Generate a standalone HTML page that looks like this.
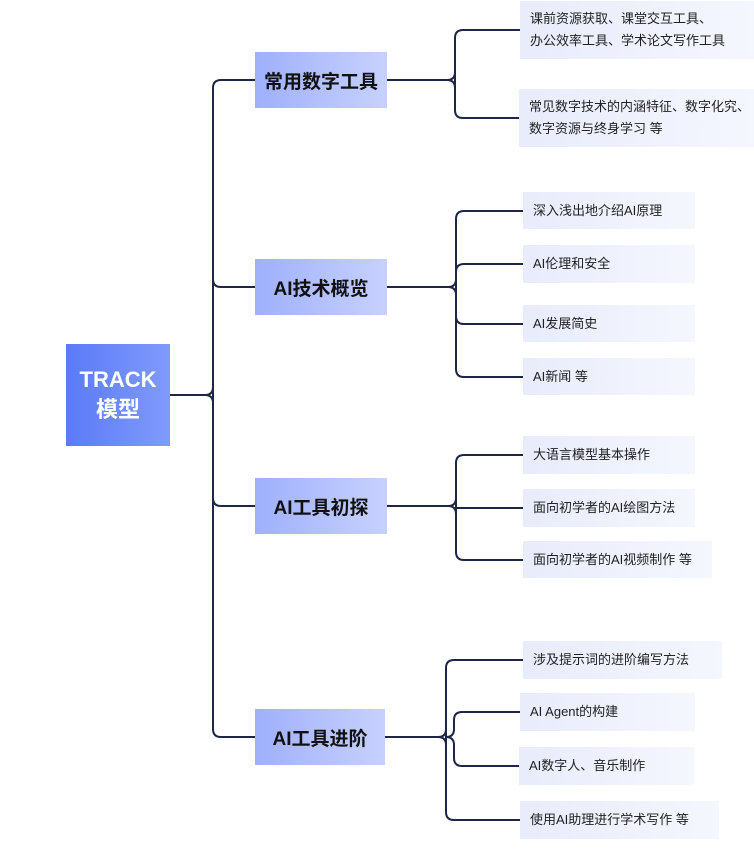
<!DOCTYPE html>
<html><head><meta charset="utf-8"><style>
body{margin:0;width:754px;height:853px;background:#fff;position:relative;overflow:hidden;font-family:"Liberation Sans","Noto Sans CJK SC",sans-serif}
.b{position:absolute;display:flex;align-items:center;justify-content:center;box-sizing:border-box}
.root{left:66px;top:344px;width:104px;height:102px;background:linear-gradient(90deg,#5a7af7,#809bfb);color:#fff;font-size:22px;font-weight:bold;line-height:30px;text-align:center}
.br{width:132px;height:56px;left:255px;background:linear-gradient(90deg,#9fb0fb,#c7d1fd);color:#111;font-size:19px;font-weight:bold}
.lf{background:linear-gradient(90deg,#e8ecfb,#f5f7fe);color:#222;font-size:13px;justify-content:flex-start;padding-left:10px;line-height:22px}
svg{position:absolute;left:0;top:0}
</style></head><body>
<svg width="754" height="853" fill="none" stroke="#1d2745" stroke-width="2">
<path d="M170 395 H205 M255 80 H221 Q213 80 213 88 V729 Q213 737 221 737 H255 M213 279 Q213 287 221 287 H255 M213 498 Q213 506 221 506 H255"/>
<path d="M205 395 Q213 395 213 387 M205 395 Q213 395 213 403"/>
<path d="M387 80 H447 M463 30 Q455 30 455 38 V110 Q455 118 463 118 H519 M447 80 Q455 80 455 72 M447 80 Q455 80 455 88 M463 30 H520"/>
<path d="M387 287 H448 M464 211 Q456 211 456 219 V369 Q456 377 464 377 H523 M464 211 H523 M456 272 Q456 264 464 264 H523 M456 316 Q456 324 464 324 H523 M448 287 Q456 287 456 279 M448 287 Q456 287 456 295"/>
<path d="M387 506 H448 M464 455 Q456 455 456 463 V552 Q456 560 464 560 H523 M464 455 H523 M448 506 Q456 506 456 498 M448 506 Q456 506 456 514 M456 508 H523"/>
<path d="M385 737 H438 M454 660 Q446 660 446 668 V812 Q446 820 454 820 H520 M454 660 H523 M438 737 Q446 737 446 729 M438 737 Q446 737 446 745 M446 737 Q454 737 454 745 V758 Q454 766 462 766 H519 M446 737 Q454 737 454 729 V720 Q454 712 462 712 H520"/>
</svg>
<div class="b root">TRACK<br>模型</div>
<div class="b br" style="top:52px">常用数字工具</div>
<div class="b br" style="top:259px">AI技术概览</div>
<div class="b br" style="top:478px">AI工具初探</div>
<div class="b br" style="top:709px;width:130px">AI工具进阶</div>
<div class="b lf" style="left:520px;top:1px;width:234px;height:58px">课前资源获取、课堂交互工具、<br>办公效率工具、学术论文写作工具</div>
<div class="b lf" style="left:519px;top:89px;width:235px;height:58px">常见数字技术的内涵特征、数字化究、<br>数字资源与终身学习 等</div>
<div class="b lf" style="left:523px;top:192px;width:172px;height:37px">深入浅出地介绍AI原理</div>
<div class="b lf" style="left:523px;top:245px;width:172px;height:38px">AI伦理和安全</div>
<div class="b lf" style="left:523px;top:305px;width:172px;height:37px">AI发展简史</div>
<div class="b lf" style="left:523px;top:358px;width:172px;height:37px">AI新闻 等</div>
<div class="b lf" style="left:523px;top:436px;width:172px;height:38px">大语言模型基本操作</div>
<div class="b lf" style="left:523px;top:489px;width:172px;height:38px">面向初学者的AI绘图方法</div>
<div class="b lf" style="left:523px;top:541px;width:189px;height:37px">面向初学者的AI视频制作 等</div>
<div class="b lf" style="left:523px;top:641px;width:199px;height:38px">涉及提示词的进阶编写方法</div>
<div class="b lf" style="left:520px;top:693px;width:175px;height:38px">AI Agent的构建</div>
<div class="b lf" style="left:519px;top:747px;width:175px;height:38px">AI数字人、音乐制作</div>
<div class="b lf" style="left:520px;top:801px;width:199px;height:38px">使用AI助理进行学术写作 等</div>
</body></html>
